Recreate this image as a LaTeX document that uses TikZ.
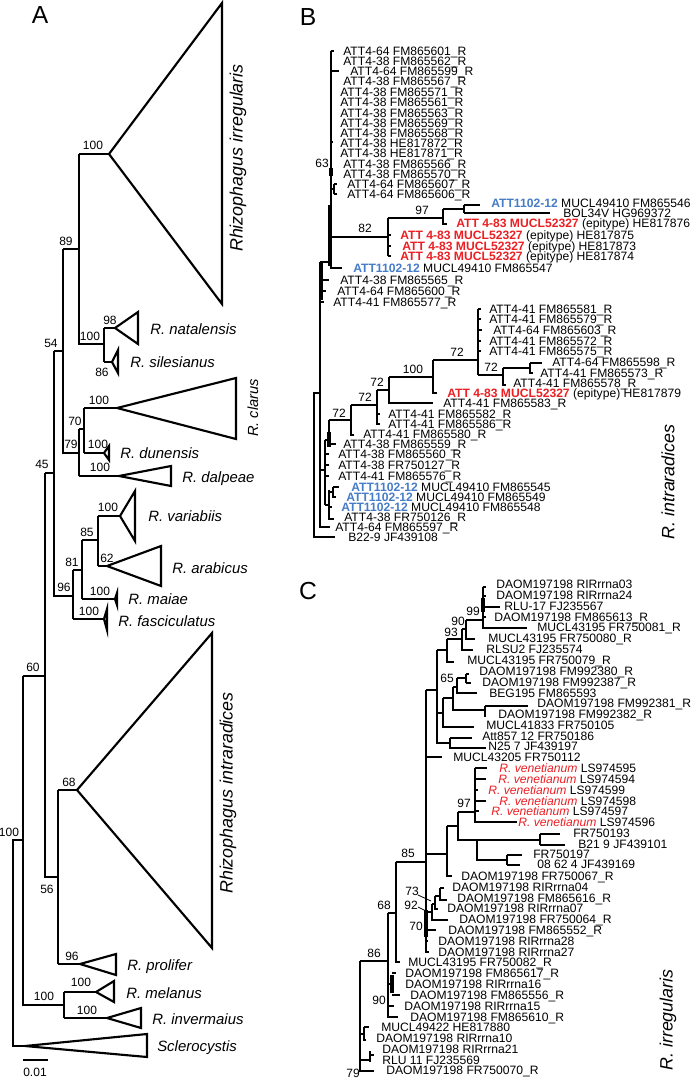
\documentclass[tikz,border=0pt]{standalone}
\usepackage{fontspec}
\setmainfont{Liberation Sans}
\definecolor{tred}{RGB}{236,32,36}
\definecolor{tblue}{RGB}{70,125,200}
\newcounter{nn}
\newcommand\LB[3]{\stepcounter{nn}\node[lab] (t\arabic{nn}) at (#1,#2) {#3};}
\newcommand\BS[3]{\stepcounter{nn}\node[bs] (t\arabic{nn}) at (#1,#2) {#3};}
\newcommand\SP[3]{\stepcounter{nn}\node[sp] (t\arabic{nn}) at (#1,#2) {#3};}
\newcommand\myRD{\textcolor{tred}{\bfseries ATT 4-83 MUCL52327}}
\newcommand\myBL{\textcolor{tblue}{\bfseries ATT1102-12}}
\newcommand\myVN{\textcolor{tred}{\itshape R. venetianum}}
\begin{document}
\begin{tikzpicture}[x=0.75pt,y=-0.75pt,
  brA/.style={line width=1.6pt},
  brB/.style={line width=1.2pt},
  thk/.style={line width=2.4pt},
  lab/.style={anchor=base west,inner sep=0pt,yshift=-3.3pt,font=\fontsize{9.1}{10}\selectfont},
  bs/.style={anchor=base,inner sep=0pt,yshift=-3.2pt,font=\fontsize{9}{10}\selectfont},
  sp/.style={anchor=base west,inner sep=0pt,yshift=-4pt,font=\fontsize{11.2}{13}\selectfont\itshape},
  side/.style={rotate=90,inner sep=0pt,font=\fontsize{13.4}{15}\selectfont\itshape},
  panel/.style={anchor=base,inner sep=0pt,font=\fontsize{18.5}{20}\selectfont}]
\fill[white] (0,0) rectangle (694,1078);
\useasboundingbox (0,0) rectangle (694,1078);

%================ PANEL A =================
\node[panel] (pA) at (40,23) {A};
\draw[brA] (79,154) -- (109,154);
\draw[brA] (109,154) -- (222,3) -- (222,304) -- cycle;
\draw[brA] (79,154) -- (79,344) -- (104,344);
\draw[brA] (63,249) -- (79,249);
\draw[brA] (104,328) -- (104,362);
\draw[brA] (104,328) -- (115,328);
\draw[brA] (115,328) -- (138,312) -- (138,344) -- cycle;
\draw[brA] (104,362) -- (112,362);
\draw[brA] (112,362) -- (118,350) -- (118,373) -- cycle;
\draw[brA] (54,351) -- (63,351);
\draw[brA] (63,249) -- (63,453) -- (79,453);
\draw[brA] (79,429) -- (79,476);
\draw[brA] (79,429) -- (84,429);
\draw[brA] (84,408) -- (84,453);
\draw[brA] (84,408) -- (117,408);
\draw[brA] (117,408) -- (236,378) -- (236,439) -- cycle;
\draw[brA] (84,453) -- (104,453);
\draw[brA] (104,453) -- (109,446) -- (109,460) -- cycle;
\draw[brA] (79,476) -- (119,476);
\draw[brA] (119,476) -- (171,466) -- (171,486) -- cycle;
\draw[brA] (45,473) -- (54,473);
\draw[brA] (54,351) -- (54,596) -- (73,596);
\draw[brA] (73,570) -- (73,619);
\draw[brA] (73,570) -- (82,570);
\draw[brA] (82,540) -- (82,599);
\draw[brA] (82,540) -- (98,540);
\draw[brA] (98,516) -- (98,566);
\draw[brA] (98,516) -- (120,516);
\draw[brA] (120,516) -- (135,491) -- (135,541) -- cycle;
\draw[brA] (98,566) -- (107,566);
\draw[brA] (107,566) -- (161,546) -- (161,586) -- cycle;
\draw[brA] (82,599) -- (115,599);
\draw[brA] (115,599) -- (117,593) -- (117,605) -- cycle;
\draw[brA] (73,619) -- (104,619);
\draw[brA] (104,619) -- (107,609) -- (107,630) -- cycle;
\draw[brA] (23,676) -- (45,676);
\draw[brA] (45,473) -- (45,877) -- (58,877);
\draw[brA] (58,790) -- (58,964);
\draw[brA] (58,790) -- (77,790);
\draw[brA] (77,790) -- (212,633) -- (212,948) -- cycle;
\draw[brA] (58,964) -- (80,964);
\draw[brA] (80,964) -- (116,954) -- (116,975) -- cycle;
\draw[brA] (23,676) -- (23,1005) -- (64,1005);
\draw[brA] (64,992) -- (64,1018);
\draw[brA] (64,992) -- (96,992);
\draw[brA] (96,992) -- (114,981) -- (114,1002) -- cycle;
\draw[brA] (64,1018) -- (107,1018);
\draw[brA] (107,1018) -- (141,1008) -- (141,1028) -- cycle;
\draw[brA] (23,840) -- (13,840) -- (13,1046) -- (25,1046);
\draw[brA] (25,1046) -- (147,1034) -- (147,1057) -- cycle;
\draw[brA] (23,1060) -- (48,1060);
\BS{35}{1072}{0.01}

\BS{93}{145}{100} \BS{66}{241}{89} \BS{90}{336}{100} \BS{110}{320}{98}
\BS{102}{372}{86} \BS{51}{343}{54} \BS{99}{400}{100} \BS{75}{421}{70}
\BS{71}{444}{79} \BS{98}{444}{100} \BS{100}{467}{100} \BS{42}{464}{45}
\BS{108}{507}{100} \BS{87}{532}{85} \BS{107}{558}{62} \BS{72}{562}{81}
\BS{64}{587}{96} \BS{100}{591}{100} \BS{89}{611}{100} \BS{33}{667}{60}
\BS{69}{782}{68} \BS{47}{889}{56} \BS{72}{956}{96} \BS{81}{982}{100}
\BS{44}{996}{100} \BS{87}{1010}{100} \BS{9}{832}{100}

\SP{150}{329}{R. natalensis}
\SP{130}{362}{R. silesianus}
\SP{120}{453}{R. dunensis}
\SP{182}{477}{R. dalpeae}
\SP{148}{516}{R. variabiis}
\SP{172}{568}{R. arabicus}
\SP{128}{599}{R. maiae}
\SP{118}{621}{R. fasciculatus}
\SP{127}{965}{R. prolifer}
\SP{126}{993}{R. melanus}
\SP{152}{1019}{R. invermaius}
\SP{157}{1046}{Sclerocystis}
\node[side] (sA1) at (238,158) {Rhizophagus irregularis};
\node[side] (sA2) at (228,793) {Rhizophagus intraradices};
\node[side,font=\fontsize{11}{12}\selectfont\itshape] (sA3) at (253,408) {R. clarus};

%================ PANEL B =================
\node[panel] (pB) at (308,25) {B};
\draw[brB] (331,51) -- (331,268) -- (342,268);
\draw[brB] (331,51) -- (334,51);
\draw[brB] (331,71) -- (339,71);
\draw[brB] (331,142) -- (333,142);
\draw[brB] (331,189) -- (334,189) (334,184) -- (334,194) (334,184) -- (337,184) (334,194) -- (337,194);
\draw[thk] (331,168) -- (331,176);
\draw[thk] (330,205) -- (330,266);
\draw[brB] (331,237) -- (388,237);
\draw[brB] (388,218) -- (388,256);
\draw[brB] (388,235) -- (391,235) (388,246) -- (391,246) (388,256) -- (391,256);
\draw[brB] (388,218) -- (443,218);
\draw[brB] (443,209) -- (443,224) -- (447,224);
\draw[brB] (443,209) -- (464,209);
\draw[brB] (464,205) -- (464,213);
\draw[brB] (464,205) -- (480,205);
\draw[brB] (464,213) -- (550,213);
\draw[brB] (320,262) -- (331,262);
\draw[thk] (321,262) -- (321,300);
\draw[brB] (321,280) -- (329,280) (321,291) -- (326,291) (321,302) -- (324,302);
\draw[brB] (320,262) -- (320,527) -- (330,527);
\draw[brB] (320,393) -- (314,393) -- (314,537) -- (335,537);
% lower clade
\draw[brB] (320,470) -- (325,470);
\draw[brB] (325,440) -- (325,505);
\draw[brB] (325,440) -- (329,440);
\draw[brB] (329,420) -- (329,447);
\draw[thk] (329,432) -- (329,447);
\draw[brB] (329,444) -- (336,444);
\draw[brB] (325,454) -- (329,454) (325,465) -- (329,465) (325,476) -- (329,476);
\draw[brB] (325,505) -- (329,505);
\draw[brB] (329,490) -- (329,519) -- (334,519);
\draw[brB] (329,492) -- (333,492);
\draw[brB] (333,487) -- (333,498);
\draw[brB] (333,487) -- (339,487) (333,497) -- (336,497) (329,507) -- (332,507);
\draw[brB] (329,420) -- (351,420);
\draw[brB] (351,405) -- (351,435) -- (354,435);
\draw[brB] (351,405) -- (377,405);
\draw[brB] (377,390) -- (377,424) -- (380,424);
\draw[brB] (377,414) -- (380,414);
\draw[brB] (377,390) -- (389,390);
\draw[brB] (389,377) -- (389,403) -- (433,403);
\draw[brB] (389,377) -- (433,377);
\draw[brB] (433,360) -- (433,393) -- (437,393);
\draw[brB] (433,360) -- (478,360);
\draw[brB] (478,309) -- (478,375);
\draw[brB] (478,309) -- (481,309) (478,319) -- (481,319) (478,330) -- (482,330) (478,341) -- (481,341) (478,351) -- (481,351);
\draw[brB] (478,375) -- (503,375);
\draw[brB] (503,368) -- (503,385) -- (506,385);
\draw[brB] (503,368) -- (530,368);
\draw[brB] (530,363) -- (530,373) -- (533,373);
\draw[brB] (530,363) -- (542,363);

\BS{322}{163}{63} \BS{365}{228}{82} \BS{422}{210}{97}
\BS{339}{413}{72} \BS{365}{397}{72} \BS{377}{382}{72}
\BS{413}{369}{100} \BS{457}{352}{72} \BS{491}{367}{72}

\LB{343}{51}{ATT4-64 FM865601\_R}
\LB{343}{61}{ATT4-38 FM865562\_R}
\LB{350}{71}{ATT4-64 FM865599\_R}
\LB{343}{81}{ATT4-38 FM865567\_R}
\LB{340}{92}{ATT4-38 FM865571\_R}
\LB{340}{102}{ATT4-38 FM865561\_R}
\LB{340}{113}{ATT4-38 FM865563\_R}
\LB{340}{123}{ATT4-38 FM865569\_R}
\LB{340}{133}{ATT4-38 FM865568\_R}
\LB{340}{143}{ATT4-38 HE817872\_R}
\LB{340}{153}{ATT4-38 HE817871\_R}
\LB{343}{164}{ATT4-38 FM865566\_R}
\LB{343}{174}{ATT4-38 FM865570\_R}
\LB{347}{184}{ATT4-64 FM865607\_R}
\LB{347}{194}{ATT4-64 FM865606\_R}
\LB{491}{203}{\myBL{} MUCL49410 FM865546}
\LB{563}{213}{BOL34V HG969372}
\LB{456}{223}{\myRD{} (epitype) HE817876}
\LB{400}{235}{\myRD{} (epitype) HE817875}
\LB{402}{246}{\myRD{} (epitype) HE817873}
\LB{400}{256}{\myRD{} (epitype) HE817874}
\LB{353}{268}{\myBL{} MUCL49410 FM865547}
\LB{340}{280}{ATT4-38 FM865565\_R}
\LB{337}{291}{ATT4-64 FM865600\_R}
\LB{333}{302}{ATT4-41 FM865577\_R}
\LB{489}{309}{ATT4-41 FM865581\_R}
\LB{489}{319}{ATT4-41 FM865579\_R}
\LB{493}{330}{ATT4-64 FM865603\_R}
\LB{489}{341}{ATT4-41 FM865572\_R}
\LB{489}{351}{ATT4-41 FM865575\_R}
\LB{552}{362}{ATT4-64 FM865598\_R}
\LB{540}{373}{ATT4-41 FM865573\_R}
\LB{513}{383}{ATT4-41 FM865578\_R}
\LB{447}{393}{\myRD{} (epitype) HE817879}
\LB{443}{403}{ATT4-41 FM865583\_R}
\LB{388}{414}{ATT4-41 FM865582\_R}
\LB{388}{424}{ATT4-41 FM865586\_R}
\LB{363}{434}{ATT4-41 FM865580\_R}
\LB{343}{444}{ATT4-38 FM865559\_R}
\LB{338}{454}{ATT4-38 FM865560\_R}
\LB{338}{465}{ATT4-38 FR750127\_R}
\LB{338}{476}{ATT4-41 FM865576\_R}
\LB{351}{487}{\myBL{} MUCL49410 FM865545}
\LB{346}{497}{\myBL{} MUCL49410 FM865549}
\LB{341}{507}{\myBL{} MUCL49410 FM865548}
\LB{344}{517}{ATT4-38 FR750126\_R}
\LB{335}{527}{ATT4-64 FM865597\_R}
\LB{348}{537}{B22-9 JF439108}
\node[side] (sB) at (668,482) {R. intraradices};

%================ PANEL C =================
\node[panel] (pC) at (308,599) {C};
\draw[brB] (483,587) -- (483,628) -- (527,628);
\draw[thk] (483,598) -- (483,612);
\draw[brB] (483,587) -- (486,587) (483,596) -- (486,596) (483,607) -- (500,607) (483,617) -- (486,617);
\draw[brB] (466,620) -- (483,620);
\draw[brB] (466,620) -- (466,639) -- (475,639);
\draw[brB] (462,629) -- (466,629);
\draw[brB] (462,629) -- (462,650) -- (473,650);
\draw[brB] (447,639) -- (462,639);
\draw[brB] (447,639) -- (447,662) -- (454,662);
\draw[brB] (437,650) -- (447,650);
\draw[brB] (437,650) -- (437,743) -- (450,743);
\draw[brB] (437,713) -- (443,713);
\draw[brB] (443,698) -- (443,727) -- (474,727);
\draw[brB] (443,698) -- (453,698);
\draw[brB] (453,687) -- (453,710) -- (485,710);
\draw[brB] (453,687) -- (457,687);
\draw[brB] (457,678) -- (457,693) -- (477,693);
\draw[brB] (457,678) -- (466,678);
\draw[brB] (466,674) -- (466,683) (466,674) -- (469,674) (466,683) -- (471,683);
\draw[brB] (485,706) -- (485,717) (485,706) -- (528,706);
\draw[brB] (450,738) -- (450,748) -- (486,748);
\draw[brB] (450,738) -- (472,738);
\draw[brB] (426,690) -- (437,690);
\draw[brB] (426,690) -- (426,952) -- (429,952);
\draw[brB] (426,757) -- (442,757);
% venetianum
\draw[brB] (475,768) -- (475,822) -- (517,822);
\draw[brB] (475,768) -- (487,768) (475,779) -- (486,779) (475,790) -- (478,790) (475,801) -- (486,801) (475,811) -- (479,811);
\draw[brB] (458,812) -- (475,812);
\draw[brB] (458,812) -- (458,840) -- (540,840);
\draw[brB] (540,834) -- (540,845);
\draw[brB] (540,834) -- (560,834) (540,845) -- (565,845);
\draw[brB] (477,840) -- (477,860) -- (507,860);
\draw[brB] (507,855) -- (507,865);
\draw[brB] (507,855) -- (522,855) (507,865) -- (520,865);
\draw[brB] (447,826) -- (458,826);
\draw[brB] (447,826) -- (447,876) -- (452,876);
\draw[brB] (426,854) -- (447,854);
% lower part
\draw[brB] (426,912) -- (432,912);
\draw[brB] (432,904) -- (432,920) -- (448,920);
\draw[brB] (432,904) -- (435,904);
\draw[brB] (435,896) -- (435,909) -- (438,909);
\draw[brB] (435,896) -- (440,896);
\draw[brB] (440,888) -- (440,900) -- (447,900);
\draw[brB] (440,888) -- (444,888);
\draw[brB] (426,930) -- (436,930);
\draw[brB] (426,941) -- (428,941);
\draw[thk] (426,910) -- (426,937);
\draw[line width=0.6pt] (418,895) -- (431,901);
\draw[line width=0.6pt] (418,907) -- (428,912);
\draw[brB] (396,862) -- (426,862);
\draw[brB] (396,862) -- (396,962) -- (400,962);
\draw[brB] (388,913) -- (396,913);
\draw[brB] (388,913) -- (388,1017) -- (398,1017);
\draw[thk] (392,975) -- (392,993);
\draw[brB] (388,984) -- (392,984) (392,973) -- (396,973) (392,995) -- (400,995) (388,1006) -- (394,1006);
\draw[brB] (360,961) -- (388,961);
\draw[brB] (360,961) -- (360,1071) -- (374,1071);
\draw[brB] (360,1034) -- (364,1034);
\draw[brB] (364,1027) -- (364,1040) -- (366,1040);
\draw[brB] (364,1027) -- (369,1027);
\draw[brB] (360,1060) -- (370,1060);
\draw[brB] (370,1051) -- (370,1062);
\draw[brB] (370,1055) -- (374,1055);

\BS{473}{611}{99} \BS{458}{621}{90} \BS{451}{632}{93} \BS{447}{678}{65}
\BS{464}{803}{97} \BS{408}{853}{85} \BS{412}{891}{73} \BS{411}{905}{92}
\BS{416}{926}{70} \BS{384}{905}{68} \BS{374}{953}{86} \BS{379}{1000}{90}
\BS{353}{1073}{79}

\LB{496}{584}{DAOM197198 RIRrrna03}
\LB{496}{595}{DAOM197198 RIRrrna24}
\LB{504}{606}{RLU-17 FJ235567}
\LB{494}{617}{DAOM197198 FM865613\_R}
\LB{537}{627}{MUCL43195 FR750081\_R}
\LB{488}{638}{MUCL43195 FR750080\_R}
\LB{486}{649}{RLSU2 FJ235574}
\LB{467}{660}{MUCL43195 FR750079\_R}
\LB{479}{671}{DAOM197198 FM992380\_R}
\LB{482}{682}{DAOM197198 FM992387\_R}
\LB{489}{693}{BEG195 FM865593}
\LB{537}{703}{DAOM197198 FM992381\_R}
\LB{498}{714}{DAOM197198 FM992382\_R}
\LB{486}{725}{MUCL41833 FR750105}
\LB{482}{736}{Att857 12 FR750186}
\LB{488}{746}{N25 7 JF439197}
\LB{453}{757}{MUCL43205 FR750112}
\LB{499}{768}{\myVN{} LS974595}
\LB{498}{779}{\myVN{} LS974594}
\LB{488}{790}{\myVN{} LS974599}
\LB{499}{801}{\myVN{} LS974598}
\LB{491}{811}{\myVN{} LS974597}
\LB{518}{822}{\myVN{} LS974596}
\LB{573}{833}{FR750193}
\LB{578}{844}{B21 9 JF439101}
\LB{533}{854}{FR750197}
\LB{537}{864}{08 62 4 JF439169}
\LB{461}{876}{DAOM197198 FR750067\_R}
\LB{452}{887}{DAOM197198 RIRrrna04}
\LB{457}{898}{DAOM197198 FM865616\_R}
\LB{447}{908}{DAOM197198 RIRrrna07}
\LB{459}{919}{DAOM197198 FR750064\_R}
\LB{448}{930}{DAOM197198 FM865552\_R}
\LB{438}{941}{DAOM197198 RIRrrna28}
\LB{438}{952}{DAOM197198 RIRrrna27}
\LB{408}{962}{MUCL43195 FR750082\_R}
\LB{405}{973}{DAOM197198 FM865617\_R}
\LB{405}{984}{DAOM197198 RIRrrna16}
\LB{410}{995}{DAOM197198 FM865556\_R}
\LB{404}{1006}{DAOM197198 RIRrrna15}
\LB{410}{1017}{DAOM197198 FM865610\_R}
\LB{381}{1027}{MUCL49422 HE817880}
\LB{376}{1038}{DAOM197198 RIRrrna10}
\LB{382}{1049}{DAOM197198 RIRrrna21}
\LB{382}{1060}{RLU 11 FJ235569}
\LB{386}{1070}{DAOM197198 FR750070\_R}
\node[side] (sC) at (668,1020) {R. irregularis};
\end{tikzpicture}
\end{document}
